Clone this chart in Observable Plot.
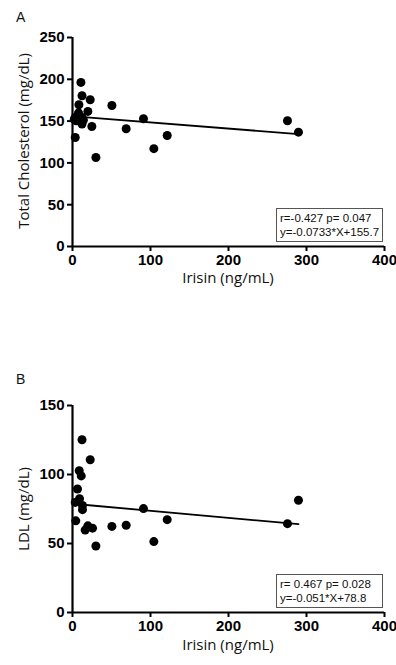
<!DOCTYPE html>
<html>
<head>
<meta charset="utf-8">
<script src="https://cdn.jsdelivr.net/npm/d3@7"></script>
<script src="https://cdn.jsdelivr.net/npm/@observablehq/plot@0.6"></script>
<style>
  html, body { margin: 0; padding: 0; background: #fff; }
  #root { position: relative; width: 396px; height: 665px; overflow: hidden; background: #fff; }
  .abs { position: absolute; }
  .panel-letter { font-family: "Liberation Sans", Arial, sans-serif; font-size: 14px; color: #111; }
  .axis-title { font-family: "Open Sans", "Noto Sans", sans-serif; font-size: 15px; color: #111; white-space: nowrap; line-height: 1; }
  .ybox { transform: translate(-50%, -50%) rotate(-90deg); }
  .xbox { transform: translate(-50%, 0); }
  .stat { font-family: "Liberation Sans", Arial, sans-serif; font-size: 11.5px; color: #111; border: 1.5px solid #555; box-sizing: border-box; padding: 2px 0 0 3px; line-height: 14px; background: #fff; white-space: nowrap; }
</style>
</head>
<body>
<div id="root"></div>
<script>
// ---- Data ----
const irisinA = [10.8, 12.2, 22.7, 8.2, 19.7, 7.7, 3.5, 12.2, 4.7, 14, 12.2, 24.8, 3.5, 30, 50.5, 68.8, 91, 104.3, 121.4, 275.6, 289.7, 2.2];
const cholesterol = [196.3, 180.3, 175.5, 169.6, 161.6, 159.7, 154.4, 154.4, 150.4, 151.2, 146.4, 143.6, 130.4, 106.5, 168.7, 140.8, 152.8, 117, 132.8, 150.4, 136.8, 152];

const irisinB = [12.2, 22.7, 8.6, 11.2, 6.4, 9, 3.5, 12.8, 12.8, 4.2, 16.2, 19.7, 25.7, 30, 50.5, 68.8, 91, 104.3, 121.4, 275.6, 289.7];
const ldl = [125.2, 110.7, 102.7, 99, 89.5, 82.5, 79.8, 77.6, 74.5, 66.4, 59.7, 62.8, 61.1, 48.2, 62.4, 63.2, 75.3, 51.4, 67.3, 64.4, 81.3];

const xTicks = [0, 100, 200, 300, 400];
const yTicksA = [0, 50, 100, 150, 200, 250];
const yTicksB = [0, 50, 100, 150];

const fitA = { slope: -0.0733, intercept: 155.7 };
const fitB = { slope: -0.051, intercept: 78.8 };

const statsA = ["r=-0.427 p= 0.047", "y=-0.0733*X+155.7"];
const statsB = ["r= 0.467 p= 0.028", "y=-0.051*X+78.8"];

const panels = [
  { letter: "A", xs: irisinA, ys: cholesterol, yDomain: [0, 250], yTicks: yTicksA, fit: fitA, stats: statsA, ytitle: "Total Cholesterol (mg/dL)", xtitle: "Irisin (ng/mL)", top: 0, height: 300, plotH: 209, letterTop: 9, xtitleTop: 270, ytitleY: 141, boxTop: 207.5 },
  { letter: "B", xs: irisinB, ys: ldl, yDomain: [0, 150], yTicks: yTicksB, fit: fitB, stats: statsB, ytitle: "LDL (mg/dL)", xtitle: "Irisin (ng/mL)", top: 368, height: 297, plotH: 207, letterTop: 371, xtitleTop: 637, ytitleY: 509, boxTop: 574 }
];

const root = document.getElementById("root");
const FONT = "Liberation Sans, Arial, sans-serif";

for (const p of panels) {
  const pts = p.xs.map((x, i) => ({ x, y: p.ys[i] }));
  const [x0, x1] = d3.extent(p.xs);
  const fitLine = [x0, x1].map(x => ({ x, y: p.fit.slope * x + p.fit.intercept }));

  const chart = Plot.plot({
    width: 396,
    height: p.height,
    marginLeft: 72,
    marginRight: 12,
    marginTop: 37,
    marginBottom: p.height - 37 - p.plotH,
    style: { fontFamily: FONT, background: "transparent", overflow: "visible" },
    x: { domain: [0, 400], ticks: xTicks },
    y: { domain: p.yDomain, ticks: p.yTicks },
    marks: [
      Plot.axisX({ ticks: xTicks, tickSize: 5, tickPadding: 3, tickFormat: d3.format("d"), fontSize: 15, strokeWidth: 2, label: null, color: "#000" }),
      Plot.axisY({ ticks: p.yTicks, tickSize: 5, tickPadding: 3, tickFormat: d3.format("d"), fontSize: 15, strokeWidth: 2, label: null, color: "#000" }),
      Plot.ruleY([0], { stroke: "#000", strokeWidth: 2.2 }),
      Plot.ruleX([0], { stroke: "#000", strokeWidth: 2.2 }),
      Plot.line(fitLine, { x: "x", y: "y", stroke: "#000", strokeWidth: 1.8 }),
      Plot.dot(pts, { x: "x", y: "y", r: 4.5, fill: "#000", stroke: "none" })
    ]
  });
  d3.select(chart).selectAll("text")
    .style("font-weight", "700")
    .style("font-size", "15px")
    .style("font-family", FONT)
    .style("fill", "#000");
  chart.classList.add("abs");
  chart.style.left = "0px";
  chart.style.top = p.top + "px";
  root.appendChild(chart);

  const L = document.createElement("div");
  L.className = "abs panel-letter";
  L.style.left = "16px";
  L.style.top = p.letterTop + "px";
  L.textContent = p.letter;
  root.appendChild(L);

  const yt = document.createElement("div");
  yt.className = "abs axis-title ybox";
  yt.style.left = "23px";
  yt.style.top = p.ytitleY + "px";
  yt.textContent = p.ytitle;
  root.appendChild(yt);

  const xt = document.createElement("div");
  xt.className = "abs axis-title xbox";
  xt.style.left = "228px";
  xt.style.top = p.xtitleTop + "px";
  xt.textContent = p.xtitle;
  root.appendChild(xt);

  const box = document.createElement("div");
  box.className = "abs stat";
  box.style.left = "276px";
  box.style.top = p.boxTop + "px";
  box.style.width = "107px";
  box.style.height = "34px";
  box.innerHTML = p.stats.map(s => `<div>${s}</div>`).join("");
  root.appendChild(box);
}
</script>
</body>
</html>
